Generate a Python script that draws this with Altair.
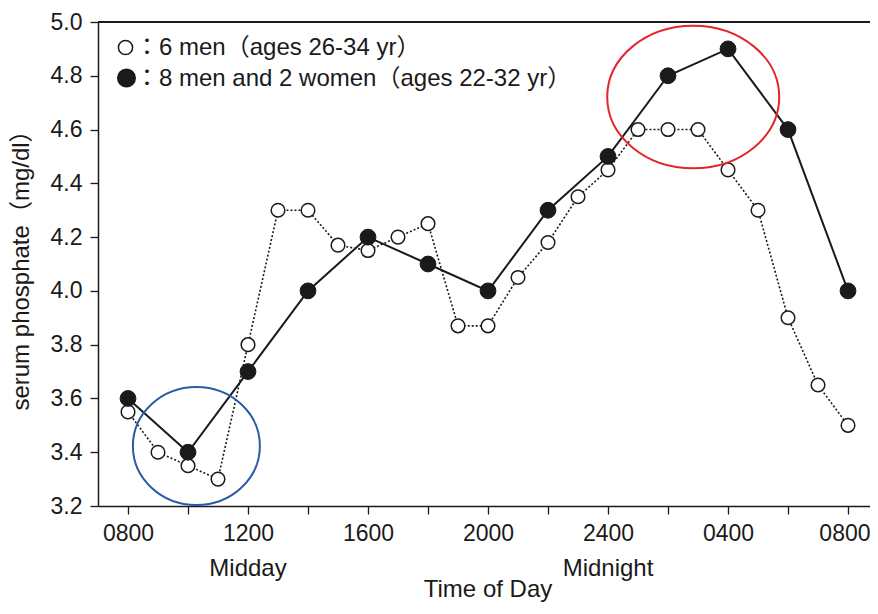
import altair as alt
import pandas as pd

# ---- data ----
open_hours = list(range(25))
open_vals = [3.55, 3.40, 3.35, 3.30, 3.80, 4.30, 4.30, 4.17, 4.15, 4.20, 4.25, 3.87, 3.87,
             4.05, 4.18, 4.35, 4.45, 4.60, 4.60, 4.60, 4.45, 4.30, 3.90, 3.65, 3.50]
filled_hours = [0, 2, 4, 6, 8, 10, 12, 14, 16, 18, 20, 22, 24]
filled_vals = [3.60, 3.40, 3.70, 4.00, 4.20, 4.10, 4.00, 4.30, 4.50, 4.80, 4.90, 4.60, 4.00]

tick_hours = [0, 4, 8, 12, 16, 20, 24]
tick_labels = ["0800", "1200", "1600", "2000", "2400", "0400", "0800"]
y_ticks = [3.2, 3.4, 3.6, 3.8, 4.0, 4.2, 4.4, 4.6, 4.8, 5.0]
legend_labels = ["：6 men（ages 26-34 yr）", "：8 men and 2 women（ages 22-32 yr）"]
period_labels = ["Midday", "Midnight"]
period_hours = [4, 16]
x_title = "Time of Day"
y_title = "serum phosphate（mg/dl）"

W, H = 772, 484
FONT = "Liberation Sans, Arial, Noto Sans CJK JP, sans-serif"
INK = "#1a1a1a"

df_open = pd.DataFrame({"hour": open_hours, "value": open_vals})
df_filled = pd.DataFrame({"hour": filled_hours, "value": filled_vals})

arr = "[" + ",".join("'%s'" % t for t in tick_labels) + "]"
label_expr = f"datum.value % 4 == 0 ? {arr}[datum.value / 4] : ''"

xscale = alt.Scale(domain=[-1, 24.733], nice=False, zero=False)
yscale = alt.Scale(domain=[3.2, 5.0], nice=False, zero=False)

x_enc = alt.X("hour:Q", scale=xscale, axis=alt.Axis(
    values=open_hours, labelExpr=label_expr, grid=False, title=None,
    domainColor=INK, domainWidth=1.5, tickColor=INK, tickWidth=1.3, tickSize=8,
    labelFont=FONT, labelFontSize=23, labelColor=INK, labelPadding=8,
    labelFlush=25, labelFlushOffset=22, labelOverlap=False))
y_enc = alt.Y("value:Q", scale=yscale, axis=alt.Axis(
    values=y_ticks, format=".1f", grid=False, title=y_title,
    domainColor=INK, domainWidth=1.5, tickColor=INK, tickWidth=1.3, tickSize=8,
    labelFont=FONT, labelFontSize=23, labelColor=INK, labelPadding=8,
    titleFont=FONT, titleFontSize=24, titleFontWeight="normal", titleColor=INK,
    titleAngle=270, titleX=-77, titleY=242, titleAlign="center", titleBaseline="middle"))

dotted = alt.Chart(df_open).mark_line(color=INK, strokeWidth=1.6, strokeDash=[2, 2]).encode(x=x_enc, y=y_enc)
solid = alt.Chart(df_filled).mark_line(color=INK, strokeWidth=2).encode(x=x_enc, y=y_enc)
open_pts = alt.Chart(df_open).mark_point(shape="circle", filled=True, fill="white", stroke=INK,
                                         strokeWidth=1.5, size=185, opacity=1).encode(x=x_enc, y=y_enc)
filled_pts = alt.Chart(df_filled).mark_point(shape="circle", filled=True, fill=INK, stroke=INK,
                                             strokeWidth=1, size=250, opacity=1).encode(x=x_enc, y=y_enc)

one = pd.DataFrame({"k": [0]})
top_rule = alt.Chart(one).mark_rule(color=INK, strokeWidth=2).encode(y=alt.datum(5.0))

red_path = "M -1 0 A 1 0.829 0 1 1 1 0 A 1 0.829 0 1 1 -1 0 Z"
blue_path = "M -1 0 A 1 0.929 0 1 1 1 0 A 1 0.929 0 1 1 -1 0 Z"
red_ell = alt.Chart(one).mark_point(shape=red_path, size=172 * 172, filled=False, stroke="#e3262c",
                                    strokeWidth=2, opacity=1).encode(x=alt.datum(18.84), y=alt.datum(4.721))
blue_ell = alt.Chart(one).mark_point(shape=blue_path, size=127 * 127, filled=False, stroke="#2b5aa6",
                                     strokeWidth=2, opacity=1).encode(x=alt.datum(2.28), y=alt.datum(3.423))

leg_open = alt.Chart(one).mark_point(shape="circle", filled=True, fill="white", stroke=INK,
                                     strokeWidth=1.5, size=200, opacity=1).encode(
    x=alt.value(27.5), y=alt.value(25.5))
leg_filled = alt.Chart(one).mark_point(shape="circle", filled=True, fill=INK, stroke=INK,
                                       size=290, opacity=1).encode(x=alt.value(28.5), y=alt.value(56))
leg_text1 = alt.Chart(pd.DataFrame({"t": [legend_labels[0]]})).mark_text(
    align="left", baseline="alphabetic", font=FONT, fontSize=24, color=INK).encode(
    text="t:N", x=alt.value(37), y=alt.value(33))
leg_text2 = alt.Chart(pd.DataFrame({"t": [legend_labels[1]]})).mark_text(
    align="left", baseline="alphabetic", font=FONT, fontSize=24, color=INK).encode(
    text="t:N", x=alt.value(37), y=alt.value(64))

periods = alt.Chart(pd.DataFrame({"hour": period_hours, "t": period_labels})).mark_text(
    align="center", baseline="alphabetic", font=FONT, fontSize=24, color=INK).encode(
    x=alt.X("hour:Q", scale=xscale), text="t:N", y=alt.value(554))
xtitle = alt.Chart(pd.DataFrame({"t": [x_title]})).mark_text(
    align="center", baseline="alphabetic", font=FONT, fontSize=24, color=INK).encode(
    x=alt.datum(12), text="t:N", y=alt.value(575))

chart = alt.layer(
    top_rule, dotted, solid, open_pts, filled_pts, red_ell, blue_ell,
    leg_open, leg_filled, leg_text1, leg_text2, periods, xtitle
).properties(
    width=W, height=H,
    autosize=alt.AutoSizeParams(type="none"),
    padding={"left": 90, "top": 14, "right": 0, "bottom": 96},
    background="white",
).configure_view(strokeWidth=0)

chart.save("out.html", embed_options={"renderer": "svg", "actions": False})
